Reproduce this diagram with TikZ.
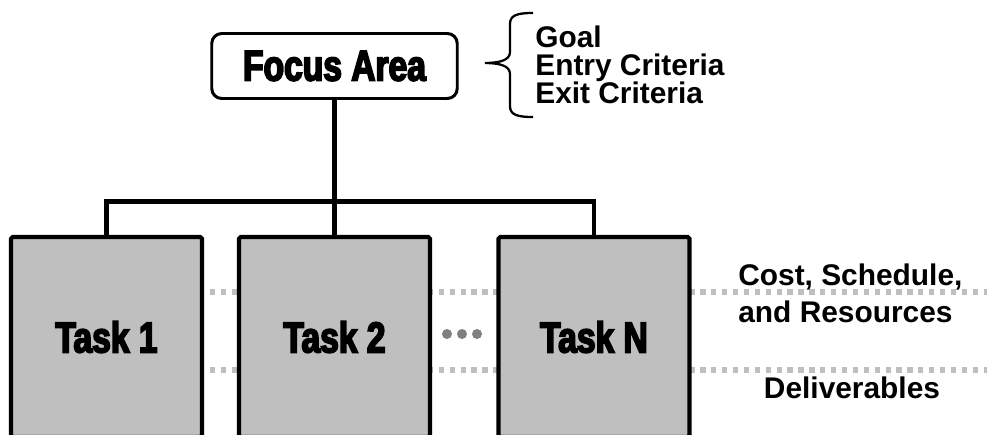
\documentclass[tikz,border=0pt]{standalone}
\usepackage{fontspec}
\usepackage[dvipsnames]{xcolor}
\setmainfont{Liberation Sans}
\newfontfamily\blockfont[FakeStretch=0.78,BoldFeatures={FakeBold=4}]{Liberation Sans}

\begin{document}
\begin{tikzpicture}[
        block/.style={font=\blockfont\bfseries\fontsize{24.5}{24}\selectfont},
        focus/.style={block, draw, line width=1.7pt, rounded corners=0.2cm, minimum width=4.91cm, minimum height=1.3cm},
        task/.style={block, draw, line width=2.3pt, fill=black!25, rounded corners=1pt, minimum width=3.82cm, minimum height=4cm},
        link/.style={line width=2.3pt},
        level/.style={black!25, line width=3pt, dash pattern=on 3pt off 3.2pt},
        side/.style={font=\bfseries\fontsize{17}{21}\selectfont, align=left, inner sep=0}
    ]
        \clip (0, 0) rectangle (19.74, 8.68);

        % dotted levels, behind the tasks
        \draw[level] (4.2, 2.84) -- (19.74, 2.84);
        \draw[level] (4.2, 1.28) -- (19.74, 1.28);

        \node[task] (task1) at (2.13, 1.94) {Task 1};
        \node[task] (task2) at (6.69, 1.94) {Task 2};
        \node[task] (taskN) at (11.88, 1.94) {Task N};

        \node[focus] (focus) at (6.69, 7.36) {Focus Area};

        \coordinate (bar) at (6.69, 4.65);
        \draw[link] (focus) -- (task2);
        \draw[link] (task1.north) |- (bar) -| (taskN.north);

        \foreach \x in {8.94, 9.24, 9.54}
            \fill[black!50] (\x, 2.0) circle (0.1);

        % brace
        \draw[line width=1.3pt] (10.66, 8.42) .. controls (10.35, 8.42) and (10.2, 8.38) .. (10.2, 8.2) -- (10.2, 7.64)
            .. controls (10.2, 7.48) and (10.0, 7.42) .. (9.7, 7.42)
            .. controls (10.0, 7.42) and (10.2, 7.36) .. (10.2, 7.2) -- (10.2, 6.56)
            .. controls (10.2, 6.38) and (10.35, 6.34) .. (10.66, 6.34);

        \node[side, font=\bfseries\fontsize{17}{16}\selectfont, anchor=west] (criteria) at (10.7, 7.38) {Goal\\Entry Criteria\\Exit Criteria};

        \node[side, anchor=west] (cost) at (14.76, 2.81) {Cost, Schedule,\\and Resources};
        \node[side] (deliver) at (17.04, 0.92) {Deliverables};

    \end{tikzpicture}
\end{document}
